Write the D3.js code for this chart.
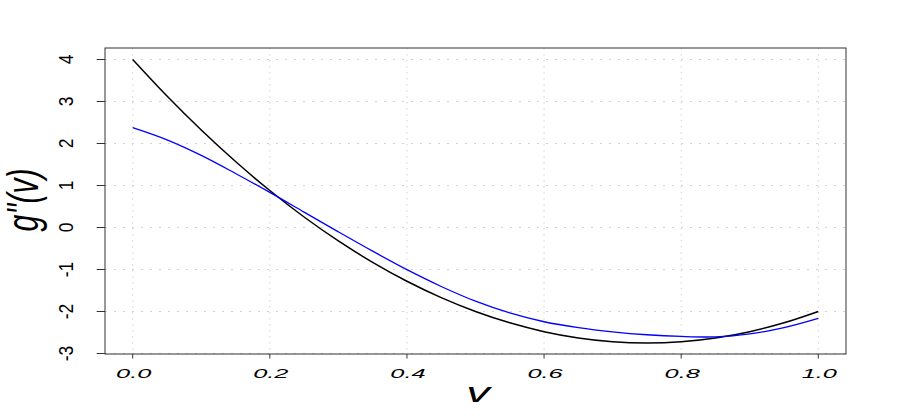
<!DOCTYPE html>
<html>
<head>
<meta charset="utf-8">
<script src="https://cdn.jsdelivr.net/npm/d3@7"></script>
<style>
  html, body { margin: 0; padding: 0; background: #fff; }
  svg { display: block; font-family: "Liberation Sans", Arial, sans-serif; }
</style>
</head>
<body>
<svg id="chart" width="900" height="415"></svg>
<script>
// ---- data ----
const vValues = [0.00, 0.05, 0.10, 0.15, 0.20, 0.25, 0.30, 0.35, 0.40, 0.45, 0.50,
                 0.55, 0.60, 0.65, 0.70, 0.75, 0.80, 0.85, 0.90, 0.95, 1.00];
const blackSeries = [4.00, 3.13, 2.32, 1.57, 0.88, 0.25, -0.32, -0.83, -1.28, -1.67, -2.00,
                     -2.27, -2.48, -2.63, -2.72, -2.75, -2.72, -2.63, -2.48, -2.27, -2.00];
const blueSeries  = [2.376, 2.086, 1.716, 1.286, 0.836, 0.366, -0.104, -0.564, -1.004, -1.404, -1.754,
                     -2.034, -2.244, -2.384, -2.484, -2.554, -2.594, -2.604, -2.534, -2.384, -2.164];
const xTicks = [0.0, 0.2, 0.4, 0.6, 0.8, 1.0];
const xTickLabels = ["0.0", "0.2", "0.4", "0.6", "0.8", "1.0"];
const yTicks = [-3, -2, -1, 0, 1, 2, 3, 4];
const yTickLabels = ["-3", "-2", "-1", "0", "1", "2", "3", "4"];
const xLabel = "v";
const yLabel = "g''(v)";

// ---- layout ----
const box = { left: 105, right: 846, top: 48, bottom: 354 };
const svg = d3.select("#chart");

const x = d3.scaleLinear().domain([0, 1]).range([132.7, 818.3]);
const y = d3.scaleLinear().domain([-3, 4]).range([353.5, 59.5]);

// grid (dotted light grey)
const grid = svg.append("g");
grid.selectAll("line.gx").data(xTicks).enter().append("line")
  .attr("x1", d => x(d)).attr("x2", d => x(d))
  .attr("y1", box.top).attr("y2", box.bottom)
  .attr("stroke", "#d3d3d3").attr("stroke-width", 1)
  .attr("stroke-dasharray", "1.5,4.5");
grid.selectAll("line.gy").data(yTicks).enter().append("line")
  .attr("y1", d => y(d)).attr("y2", d => y(d))
  .attr("x1", box.left).attr("x2", box.right)
  .attr("stroke", "#d3d3d3").attr("stroke-width", 1)
  .attr("stroke-dasharray", "2,7");

// curves
const pts = (vals) => vValues.map((v, i) => [v, vals[i]]);
const line = d3.line().x(d => x(d[0])).y(d => y(d[1])).curve(d3.curveCatmullRom.alpha(0.5));

svg.append("path").attr("d", line(pts(blackSeries)))
  .attr("fill", "none").attr("stroke", "#000").attr("stroke-width", 1.5);
svg.append("path").attr("d", line(pts(blueSeries)))
  .attr("fill", "none").attr("stroke", "#0000ff").attr("stroke-width", 1.3);

// box
svg.append("rect")
  .attr("x", box.left).attr("y", box.top)
  .attr("width", box.right - box.left).attr("height", box.bottom - box.top)
  .attr("fill", "none").attr("stroke", "#333").attr("stroke-width", 1);

// x axis ticks
svg.selectAll("line.xt").data(xTicks).enter().append("line")
  .attr("x1", d => x(d)).attr("x2", d => x(d))
  .attr("y1", box.bottom).attr("y2", box.bottom + 4.5)
  .attr("stroke", "#333").attr("stroke-width", 1);
svg.selectAll("text.xtl").data(xTicks).enter().append("text")
  .attr("transform", d => `translate(${x(d) + 1},378) scale(1.95,1)`)
  .attr("text-anchor", "middle")
  .attr("font-size", 13).attr("font-style", "italic")
  .attr("fill", "#000")
  .text((d, i) => xTickLabels[i]);

// y axis ticks
svg.selectAll("line.yt").data(yTicks).enter().append("line")
  .attr("y1", d => y(d)).attr("y2", d => y(d))
  .attr("x1", box.left).attr("x2", box.left - 8.3)
  .attr("stroke", "#333").attr("stroke-width", 1);
svg.selectAll("text.ytl").data(yTicks).enter().append("text")
  .attr("transform", d => `translate(73,${y(d)}) rotate(-90) scale(1,1.15)`)
  .attr("text-anchor", "middle")
  .attr("font-size", 17.5)
  .attr("fill", "#000")
  .text((d, i) => yTickLabels[i]);

// axis labels
svg.append("text")
  .attr("transform", "translate(478,402) scale(1.75,1)")
  .attr("text-anchor", "middle")
  .attr("font-size", 27).attr("font-style", "italic")
  .attr("fill", "#000")
  .text(xLabel);

svg.append("text")
  .attr("transform", "translate(38,200) rotate(-90) scale(1,1.5)")
  .attr("text-anchor", "middle")
  .attr("font-size", 30).attr("font-style", "italic")
  .attr("fill", "#000")
  .text(yLabel);
</script>
</body>
</html>
